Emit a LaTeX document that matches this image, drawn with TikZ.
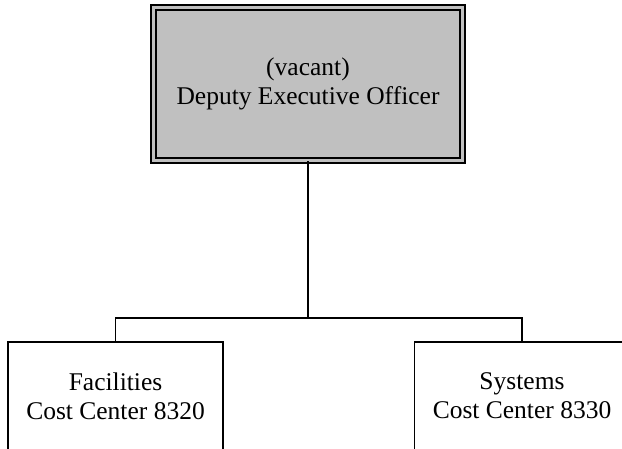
\documentclass[tikz,border=0pt]{standalone}
\usepackage{fontspec}
\setmainfont{Liberation Serif}
\usepackage{tikz}
\usetikzlibrary{positioning}

\definecolor{vacantgray}{RGB}{192, 192, 192}

\begin{document}
\begin{tikzpicture}[
  x=1pt, y=-1pt,
  every node/.style={font=\fontsize{25.5}{29}\selectfont, align=center},
  headbox/.style={draw=black, fill=vacantgray, line width=2pt, double=vacantgray, double distance=3pt, minimum width=309pt, minimum height=153pt},
  unitbox/.style={draw=black, fill=white, line width=1.5pt, minimum width=215pt, minimum height=108pt},
  link/.style={draw=black, line width=1.5pt}
]
\useasboundingbox (0,0) rectangle (622,449);

\node[headbox] (deo) at (308,84) {(vacant)\\Deputy Executive Officer};

\node[unitbox] (fac) at (115.5,396) {Facilities\\Cost Center 8320};
\node[unitbox] (sys) at (522,396) {Systems\\Cost Center 8330};

\coordinate (bus) at (308,318);

\draw[link] (deo.south) -- (bus) -| (fac.north);
\draw[link] (bus) -| (sys.north);
\end{tikzpicture}
\end{document}
